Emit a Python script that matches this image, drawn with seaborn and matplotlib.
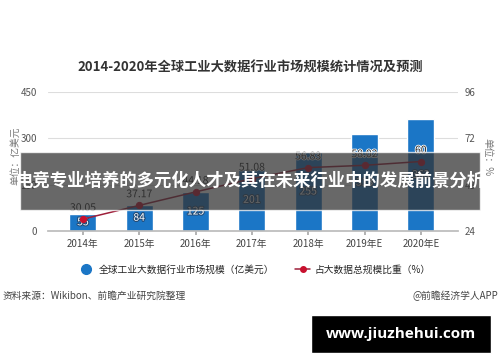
import numpy as np
import pandas as pd
import matplotlib
matplotlib.use('Agg')
import matplotlib.pyplot as plt
import seaborn as sns
from matplotlib.lines import Line2D
from matplotlib.patches import Rectangle
import matplotlib.patheffects as pe

# data
years    = ['2014年', '2015年', '2016年', '2017年', '2018年', '2019年E', '2020年E']
market   = [55, 84, 125, 201, 255, 313, 363]          # 亿美元
share    = [30.05, 37.17, 44.18, 51.08, 56.83, 58.02, 60]  # %
left_ticks  = [0, 150, 300, 450]
right_ticks = [24, 48, 72, 96]

BLUE = '#1b76c6'
RED  = '#9e1f3a'
DOT  = '#c8102e'

sns.set_theme(style='white')
plt.rcParams['font.family'] = ['Noto Sans CJK SC', 'DejaVu Sans']

df = pd.DataFrame({'year': years, 'market': market, 'share': share})

fig = plt.figure(figsize=(5, 3.62), dpi=100)
ax = fig.add_axes([0.096, 0.3627, 0.82, 0.3823])

sns.barplot(data=df, x='year', y='market', color=BLUE, width=0.48,
            saturation=1, ax=ax)
ax.set_xlim(-0.62, 6.66)
ax.set_ylim(0, 450)
ax.set_yticks(left_ticks)
ax.set_xlabel('')
ax.set_ylabel('')
for y in left_ticks[1:]:
    ax.axhline(y, color='#dddddd', lw=0.8, zorder=0)
for s in ['top', 'right', 'left']:
    ax.spines[s].set_visible(False)
ax.spines['bottom'].set_color('#bbbbbb')
ax.tick_params(axis='y', length=0, labelsize=7, colors='#555555', pad=8)
ax.tick_params(axis='x', length=3, color='#aaaaaa', labelsize=7,
               colors='#444444', pad=3, bottom=True, direction='out')

# value labels in the middle of the bars
for bar, v in zip(ax.patches, market):
    ax.text(bar.get_x() + bar.get_width() / 2, v / 2, str(v),
            ha='center', va='center', fontsize=7.5, color='white',
            path_effects=[pe.withStroke(linewidth=1.5, foreground='#234a74')])

ax2 = ax.twinx()
sns.lineplot(x=np.arange(len(years)), y=share, ax=ax2, color=RED, lw=1.1,
             marker='o', markersize=4.5, markerfacecolor=DOT,
             markeredgecolor=DOT)
ax2.set_ylim(24, 96)
ax2.set_yticks(right_ticks)
ax2.set_ylabel('')
for s in ['top', 'right', 'left', 'bottom']:
    ax2.spines[s].set_visible(False)
ax2.tick_params(axis='y', length=0, labelsize=7, colors='#555555', pad=5)
for i, v in enumerate(share):
    ax2.text(i, v + 3.2, f'{v:g}' if v == 60 else f'{v:.2f}', ha='center',
             va='bottom', fontsize=7.5, color='#222222',
             path_effects=[pe.withStroke(linewidth=1.2, foreground='white')])

fig.text(0.03, 0.57, '单位：亿美元', rotation=90, ha='center', va='center',
         fontsize=7, color='#777777')
fig.text(0.975, 0.565, '单位：%', rotation=270, ha='center', va='center',
         fontsize=7, color='#777777')

fig.text(0.5, 0.812, '2014-2020年全球工业大数据行业市场规模统计情况及预测',
         ha='center', va='center', fontsize=9.5, fontweight='bold',
         color='#333333')

handles = [
    Line2D([], [], ls='', marker='o', markersize=7, color=BLUE),
    Line2D([], [], color=RED, lw=1.1, marker='o', markersize=4,
           markerfacecolor=DOT, markeredgecolor=DOT),
]
fig.legend(handles, ['全球工业大数据行业市场规模（亿美元）', '占大数据总规模比重（%）'],
           loc='center', bbox_to_anchor=(0.51, 0.255), ncol=2, frameon=False,
           fontsize=7, handlelength=1.5, columnspacing=2.2, handletextpad=0.5)

fig.text(0.006, 0.183, '资料来源：Wikibon、前瞻产业研究院整理', ha='left',
         va='center', fontsize=7, color='#444444')
fig.text(0.996, 0.183, '@前瞻经济学人APP', ha='right', va='center',
         fontsize=7, color='#444444')

# dark banner overlay with headline
fig.patches.append(Rectangle((0.04, 0.42), 0.92, 0.16, transform=fig.transFigure,
                             facecolor='#333333', alpha=0.74, zorder=5))
fig.text(0.5, 0.50, '电竞专业培养的多元化人才及其在未来行业中的发展前景分析',
         ha='center', va='center', fontsize=12.5, fontweight='bold',
         color='white', zorder=6)

# site stamp
fig.patches.append(Rectangle((0.622, 0.025), 0.36, 0.105, transform=fig.transFigure,
                             facecolor='black', zorder=5))
fig.text(0.802, 0.078, 'www.jiuzhehui.com', ha='center', va='center',
         fontsize=11, fontweight='bold', color='white', zorder=6,
         family=['Open Sans', 'DejaVu Sans'])

fig.savefig('out.png', dpi=100)
